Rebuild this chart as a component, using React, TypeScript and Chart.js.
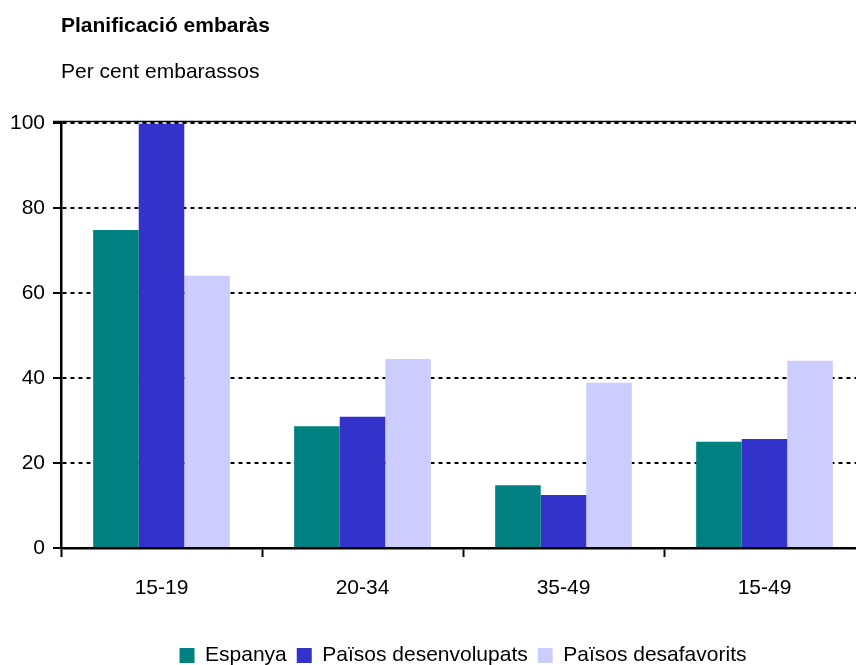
import { useEffect, useRef } from "react";
import { Chart, registerables } from "chart.js";

Chart.register(...registerables);

// ---- data ----
const categories = ["15-19", "20-34", "35-49", "15-49"];
const seriesNames = ["Espanya", "Països desenvolupats", "Països desafavorits"];
const espanya = [74.9, 28.7, 14.8, 25.0];
const desenvolupats = [100, 30.9, 12.5, 25.7];
const desafavorits = [64.1, 44.5, 38.9, 44.1];
const yMin = 0;
const yMax = 100;
const yStep = 20;
const titleText = "Planificació embaràs";
const subtitleText = "Per cent embarassos";

const seriesColors = ["#008080", "#3333CC", "#CCCCFF"];
const FONT = "'Liberation Sans', Arial, Helvetica, sans-serif";

const topLinePlugin = {
  id: "topLine",
  beforeDatasetsDraw(chart: any) {
    const { ctx, chartArea } = chart;
    ctx.save();
    ctx.strokeStyle = "#000";
    ctx.lineWidth = 1.5;
    ctx.beginPath();
    ctx.moveTo(chartArea.left - 8, chartArea.top - 2);
    ctx.lineTo(chartArea.right, chartArea.top - 2);
    ctx.stroke();
    ctx.restore();
  },
};

export default function App() {
  const ref = useRef<HTMLCanvasElement>(null);

  useEffect(() => {
    if (!ref.current) return;
    Chart.defaults.color = "#000";
    Chart.defaults.font.family = FONT;
    const seriesData = [espanya, desenvolupats, desafavorits];
    const chart = new Chart(ref.current, {
      type: "bar",
      data: {
        labels: categories,
        datasets: seriesNames.map((name, i) => ({
          label: name,
          data: seriesData[i],
          backgroundColor: seriesColors[i],
          borderWidth: 0,
          categoryPercentage: 0.68,
          barPercentage: 1.0,
        })),
      },
      options: {
        animation: false,
        responsive: false,
        devicePixelRatio: 1,
        layout: { padding: { left: 0, right: 15, top: 0, bottom: 4 } },
        plugins: {
          title: {
            display: true,
            text: titleText,
            align: "start",
            fullSize: false,
            color: "#000",
            font: { family: FONT, size: 21, weight: "bold" },
            padding: { top: 14, bottom: 9 },
          },
          subtitle: {
            display: true,
            text: subtitleText,
            align: "start",
            fullSize: false,
            color: "#000",
            font: { family: FONT, size: 21, weight: "normal" },
            padding: { top: 11, bottom: 39 },
          },
          legend: {
            display: true,
            position: "bottom",
            fullSize: false,
            labels: {
              boxWidth: 15,
              boxHeight: 15,
              padding: 10,
              color: "#000",
              font: { family: FONT, size: 21 },
            },
          },
          tooltip: { enabled: false },
        },
        scales: {
          x: {
            afterFit: (scale: any) => {
              scale.height = 87;
            },
            grid: {
              offset: true,
              drawOnChartArea: false,
              drawTicks: true,
              tickLength: 9,
              tickColor: "#000",
              tickWidth: 2,
            },
            border: { display: true, color: "#000", width: 2.5 },
            ticks: {
              color: "#000",
              font: { family: FONT, size: 21 },
              padding: 19,
              maxRotation: 0,
            },
          },
          y: {
            min: yMin,
            max: yMax,
            afterFit: (scale: any) => {
              scale.width = 61;
            },
            grid: {
              color: "#000",
              lineWidth: 2,
              drawTicks: true,
              tickLength: 8,
              tickColor: "#000",
              tickWidth: 2,
              tickBorderDash: [],
            },
            border: { display: true, color: "#000", width: 2.5, dash: [4, 4] },
            ticks: {
              stepSize: yStep,
              color: "#000",
              font: { family: FONT, size: 21 },
              padding: 8,
            },
          },
        },
      },
      plugins: [topLinePlugin],
    });
    return () => chart.destroy();
  }, []);

  return (
    <div
      style={{
        position: "fixed",
        left: 0,
        top: 0,
        width: 856,
        height: 665,
        overflow: "hidden",
        background: "#fff",
      }}
    >
      <canvas
        ref={ref}
        width={880}
        height={680}
        style={{ display: "block", width: 880, height: 680 }}
      />
    </div>
  );
}
